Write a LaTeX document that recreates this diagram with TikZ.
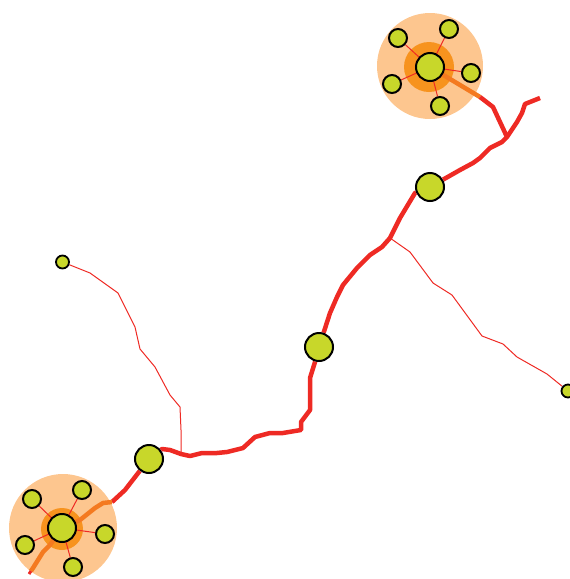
\documentclass[tikz,border=0pt]{standalone}
\definecolor{lightor}{HTML}{FDC68F}
\definecolor{darkor}{HTML}{F7931E}
\definecolor{nodefill}{HTML}{C8D72A}
\definecolor{redline}{HTML}{EE2A24}
\definecolor{orline}{HTML}{F47A20}
\pgfdeclarelayer{bg}
\pgfsetlayers{bg,main}
\tikzset{
  hub/.style={circle, fill=nodefill, draw=black, line width=2pt, minimum size=28pt, inner sep=0pt},
  sat/.style={circle, fill=nodefill, draw=black, line width=2pt, minimum size=18pt, inner sep=0pt},
  tip/.style={circle, fill=nodefill, draw=black, line width=1.8pt, minimum size=13pt, inner sep=0pt},
  trunk/.style={draw=redline, line width=4.5pt, line join=round},
  ortrunk/.style={draw=orline, line width=4.5pt, line join=round},
  thin/.style={draw=redline, line width=1pt, line join=round},
  spoke/.style={draw=redline, line width=1pt},
}
\begin{document}
\begin{tikzpicture}[x=1pt,y=-1pt]
\useasboundingbox (0,0) rectangle (570,579);
\begin{pgfonlayer}{bg}
  \fill[lightor] (430,66) circle (53);
  \fill[darkor] (429,67) circle (25);
  \fill[lightor] (63,528) circle (54);
  \fill[darkor] (62,529) circle (21);
\end{pgfonlayer}
% top cluster
\node[hub] (h1) at (430,67) {};
\node[sat] (a1) at (398,38) {};
\node[sat] (a2) at (449,29) {};
\node[sat] (a3) at (471,73) {};
\node[sat] (a4) at (440,106) {};
\node[sat] (a5) at (392,84) {};
% bottom cluster
\node[hub] (h2) at (62,528) {};
\node[sat] (b1) at (32,499) {};
\node[sat] (b2) at (82,490) {};
\node[sat] (b3) at (105,534) {};
\node[sat] (b4) at (73,567) {};
\node[sat] (b5) at (25,545) {};
% trunk nodes
\node[hub] (n3) at (430,187) {};
\node[hub] (n2) at (319,347) {};
\node[hub] (n1) at (149,459) {};
\node[tip] (tl) at (62.5,262) {};
\node[tip] (tr) at (568,391) {};
\coordinate (e1) at (540,98);
\coordinate (j1) at (507,137);
\coordinate (j2) at (390,238);
\coordinate (j3) at (181,454);
\coordinate (k1) at (480,97);
\coordinate (k2) at (112,502);
\coordinate (e2) at (29,574);
\begin{pgfonlayer}{bg}
  \foreach \s in {a1,a2,a3,a4,a5} \draw[spoke] (h1.center) -- (\s);
  \foreach \s in {b1,b2,b3,b4,b5} \draw[spoke] (h2.center) -- (\s);
  \draw[ortrunk] (h1.center) -- (k1);
  \draw[trunk] (k1) -- (493,107) -- (j1);
  \draw[trunk] (e1) -- (525,104) -- (522,113) -- (517,122) -- (j1) -- (502,142) -- (490,148) -- (480,158) -- (473,163) -- (460,170) -- (n3);
  \draw[trunk] (n3) -- (415,193) -- (400,218) -- (j2) -- (382,247) -- (370,255) -- (357,268) -- (343,285) -- (337,297) -- (330,313) -- (n2);
  \draw[trunk] (n2) -- (315,362) -- (310,378) -- (310,410) -- (301,422) -- (301,430) -- (283,433) -- (270,433) -- (255,437) -- (243,448) -- (227,452) -- (217,453) -- (202,453) -- (190,456) -- (j3) -- (170,450) -- (162,449) -- (n1);
  \draw[trunk] (n1) -- (125,490) -- (k2);
  \draw[ortrunk] (k2) -- (103,503) -- (95,508) -- (80,520) -- (h2.center) -- (50,545) -- (43,552) -- (33,568) -- (31,571);
  \draw[draw=redline, line width=3pt] (31,571) -- (e2);
  \draw[thin] (j2) -- (410,252) -- (433,283) -- (452,295) -- (482,336) -- (503,344) -- (517,357) -- (547,374) -- (tr);
  \draw[thin] (j3) -- (181,430) -- (180,407) -- (170,395) -- (155,367) -- (140,349) -- (135,327) -- (118,293) -- (90,273) -- (tl);
\end{pgfonlayer}
\end{tikzpicture}
\end{document}
